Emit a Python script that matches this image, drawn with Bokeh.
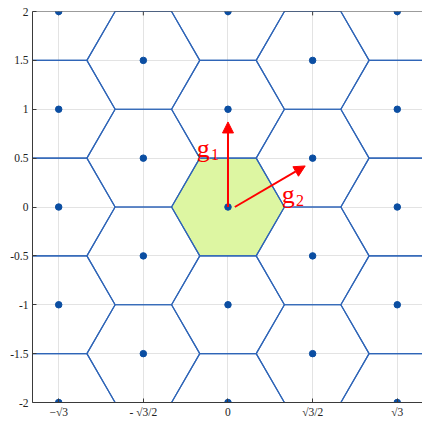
import math

from bokeh.core.properties import value
from bokeh.embed import file_html
from bokeh.models import (Arrow, ColumnDataSource, CustomJSTickFormatter,
                          FixedTicker, LinearAxis, NormalHead, Range1d, Span)
from bokeh.plotting import figure
from bokeh.resources import INLINE

S3 = math.sqrt(3)

# Reciprocal-lattice sites inside the window
site_x = [-S3, -S3, -S3, -S3, -S3,
          -S3 / 2, -S3 / 2, -S3 / 2, -S3 / 2,
          0, 0, 0, 0, 0,
          S3 / 2, S3 / 2, S3 / 2, S3 / 2,
          S3, S3, S3, S3, S3]
site_y = [-2, -1, 0, 1, 2,
          -1.5, -0.5, 0.5, 1.5,
          -2, -1, 0, 1, 2,
          -1.5, -0.5, 0.5, 1.5,
          -2, -1, 0, 1, 2]

# Extra cell centres just outside the window (their edges touch y = +/-2)
outer_x = [-S3 / 2, -S3 / 2, S3 / 2, S3 / 2]
outer_y = [-2.5, 2.5, -2.5, 2.5]

# Primitive reciprocal vectors as drawn (start -> tip)
vec_names = ["g", "g"]
vec_subs = ["1", "2"]
vec_x0 = [0.0, 0.07]
vec_y0 = [0.0, 0.0]
vec_x1 = [0.0, 0.79]
vec_y1 = [0.87, 0.42]

# Axis ticks and labels
x_ticks = [-S3, -S3 / 2, 0, S3 / 2, S3]
x_labels = ["\u2212\u221a3", "- \u221a3/2", "0", "\u221a3/2", "\u221a3"]
y_ticks = [-2, -1.5, -1, -0.5, 0, 0.5, 1, 1.5, 2]
y_labels = ["-2", "-1.5", "-1", "-0.5", "0", "0.5", "1", "1.5", "2"]

FONT = "Liberation Serif"
AXIS = "#3a3a3a"
CELL_LINE = "#2f65b7"
DOT = "#0b4ea2"


def hexagon(cx, cy):
    r = 1 / S3
    dx = [r, r / 2, -r / 2, -r, -r / 2, r / 2]
    dy = [0, 0.5, 0.5, 0, -0.5, -0.5]
    return [cx + a for a in dx], [cy + b for b in dy]


p = figure(width=422, height=421, output_backend="svg", toolbar_location=None,
           x_range=Range1d(-2, 1.99), y_range=Range1d(-2, 2),
           min_border_left=32, min_border_right=0,
           min_border_top=11, min_border_bottom=19,
           x_axis_location=None, y_axis_location=None)
p.outline_line_color = None
p.background_fill_color = "white"
p.border_fill_color = "white"


def tick_formatter(ticks, labels):
    return CustomJSTickFormatter(args=dict(t=ticks, l=labels), code="""
        let best = 0;
        for (let i = 0; i < t.length; i++) {
            if (Math.abs(t[i] - tick) < Math.abs(t[best] - tick)) best = i;
        }
        return l[best];
    """)


def style_axis(ax):
    ax.axis_line_color = AXIS
    ax.axis_line_width = 1
    ax.major_tick_in = 4
    ax.major_tick_out = 0
    ax.major_tick_line_color = AXIS
    ax.minor_tick_line_color = None
    ax.major_label_text_font = FONT
    ax.major_label_text_font_size = "11.5px"
    ax.major_label_text_color = "#222222"


xaxis = LinearAxis(ticker=FixedTicker(ticks=x_ticks),
                   formatter=tick_formatter(x_ticks, x_labels))
style_axis(xaxis)
xaxis.major_label_standoff = 3
p.add_layout(xaxis, "below")

yaxis = LinearAxis(ticker=FixedTicker(ticks=y_ticks),
                   formatter=tick_formatter(y_ticks, y_labels))
style_axis(yaxis)
yaxis.major_label_standoff = 4
p.add_layout(yaxis, "left")

p.xgrid.ticker = FixedTicker(ticks=x_ticks)
p.ygrid.ticker = FixedTicker(ticks=y_ticks)
for g in (p.xgrid, p.ygrid):
    g.grid_line_color = "#e3e3e3"
    g.grid_line_width = 1

# First Brillouin zone
bz_x, bz_y = hexagon(0, 0)
p.patch(bz_x, bz_y, fill_color="#ddf6a2", line_color=None)

# Wigner-Seitz cells around every site
cxs, cys = [], []
for cx, cy in zip(site_x + outer_x, site_y + outer_y):
    hx, hy = hexagon(cx, cy)
    cxs.append(hx + [hx[0]])
    cys.append(hy + [hy[0]])
p.multi_line(cxs, cys, line_color=CELL_LINE, line_width=1.2)

# Top frame edge with inward ticks
p.add_layout(Span(location=2, dimension="width", line_color=AXIS, line_width=1))
tick_len = 0.04
p.segment(x0=x_ticks, y0=[2] * len(x_ticks), x1=x_ticks,
          y1=[2 - tick_len] * len(x_ticks), line_color=AXIS, line_width=1)

p.scatter(site_x, site_y, size=6.5, fill_color=DOT, line_color=DOT)

# Primitive vectors
for x0, y0, x1, y1 in zip(vec_x0, vec_y0, vec_x1, vec_y1):
    p.add_layout(Arrow(x_start=x0, y_start=y0, x_end=x1, y_end=y1,
                       line_color="#ff0000", line_width=2,
                       end=NormalHead(size=11, fill_color="#ff0000",
                                      line_color="#ff0000")))

# Vector labels, placed beside each tip
lab_x = [vec_x1[0] - 0.32, vec_x1[1] - 0.24]
lab_y = [vec_y1[0] - 0.27, vec_y1[1] - 0.29]
sub_dx = 0.145
sub_dy = -0.06
src = ColumnDataSource(dict(x=lab_x, y=lab_y, t=vec_names))
p.text("x", "y", text="t", source=src, text_font=value(FONT),
       text_font_size=value("26px"), text_color="#ff0000",
       text_align="left", text_baseline="alphabetic")
sub = ColumnDataSource(dict(x=[v + sub_dx for v in lab_x],
                            y=[v + sub_dy for v in lab_y], t=vec_subs))
p.text("x", "y", text="t", source=sub, text_font=value(FONT),
       text_font_size=value("16px"), text_color="#ff0000",
       text_align="left", text_baseline="alphabetic")

open("out.html", "w").write(file_html(p, INLINE))
